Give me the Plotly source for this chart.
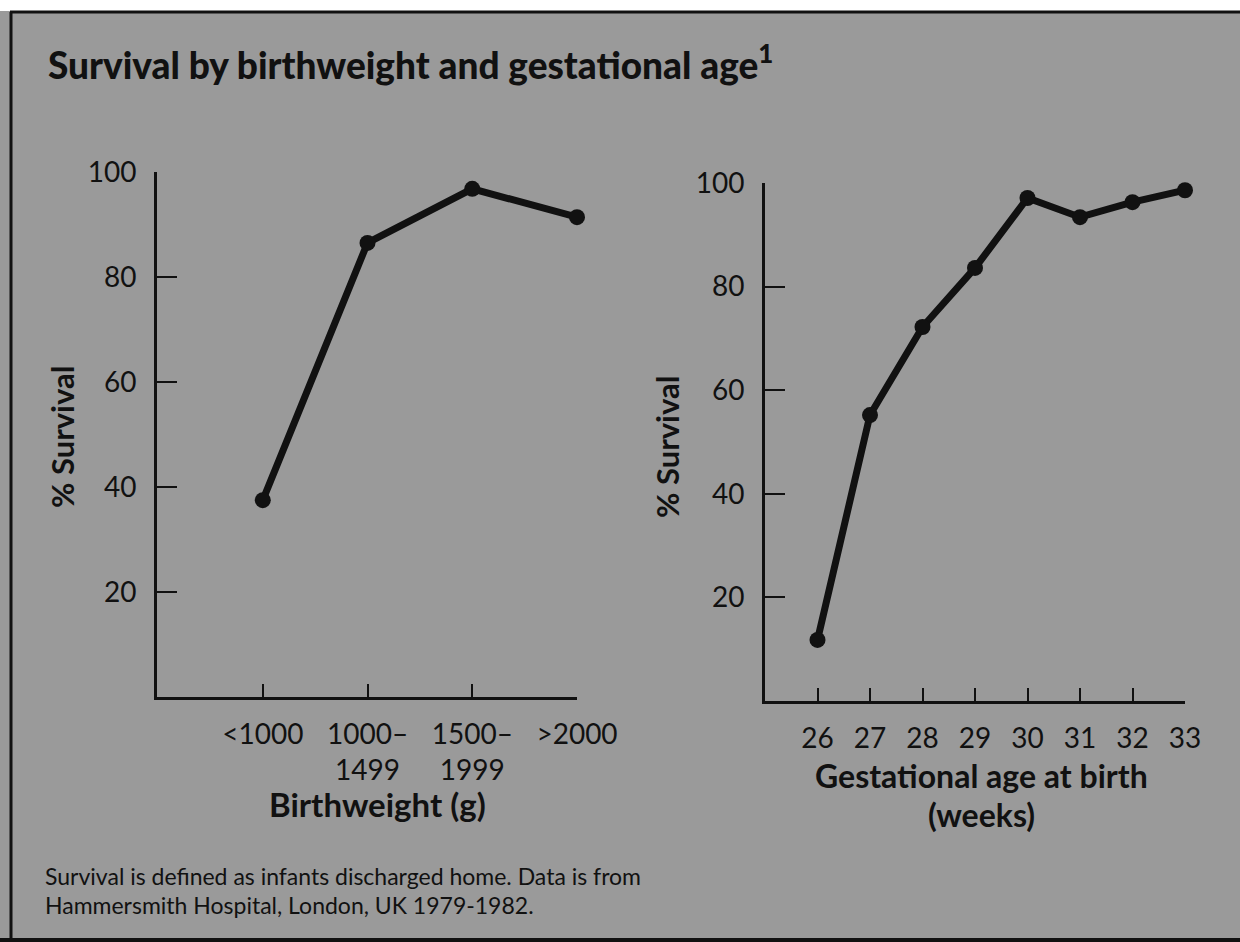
import plotly.graph_objects as go

# ---- data ----
bw_categories = ["<1000", "1000–<br>1499", "1500–<br>1999", ">2000"]
bw_survival = [37.5, 86.5, 96.8, 91.4]

ga_weeks = [26, 27, 28, 29, 30, 31, 32, 33]
ga_survival = [11.8, 55.2, 72.2, 83.6, 97.1, 93.4, 96.3, 98.6]

y_ticks = [20, 40, 60, 80, 100]
y_ticklabels = ["20", "40", "60", "80", "100"]

title_text = "Survival by birthweight and gestational age<sup>1</sup>"
footnote_lines = ["Survival is defined as infants discharged home. Data is from",
                  "Hammersmith Hospital, London, UK 1979-1982."]

W, H = 1240, 942
FONT = "Lato"
BG = "#9a9a9a"
INK = "#111111"


def px(x):
    return x / W


def py(y):
    return 1 - y / H


fig = go.Figure()

fig.add_trace(go.Scatter(
    x=list(range(len(bw_categories))), y=bw_survival,
    mode="lines+markers",
    line=dict(color=INK, width=7),
    marker=dict(color=INK, size=16),
    xaxis="x", yaxis="y", cliponaxis=False, showlegend=False,
))

fig.add_trace(go.Scatter(
    x=ga_weeks, y=ga_survival,
    mode="lines+markers",
    line=dict(color=INK, width=7),
    marker=dict(color=INK, size=16),
    xaxis="x2", yaxis="y2", cliponaxis=False, showlegend=False,
))

tickfont = dict(family=FONT, size=28, color=INK)
common_axis = dict(
    showgrid=False, zeroline=False, showline=True, linecolor=INK, linewidth=3,
    ticks="inside", tickcolor=INK, tickwidth=2, tickfont=tickfont,
    automargin=False,
)

fig.update_layout(
    width=W, height=H, autosize=False,
    margin=dict(l=0, r=0, t=0, b=0, pad=0, autoexpand=False),
    paper_bgcolor=BG, plot_bgcolor=BG,
    showlegend=False,
    xaxis=dict(
        domain=[px(157), px(577)], range=[-1.01, 3.0],
        tickmode="array", tickvals=list(range(len(bw_categories))),
        ticktext=bw_categories, ticklen=13, ticklabelstandoff=10,
        anchor="y", **common_axis,
    ),
    yaxis=dict(
        domain=[py(697), py(172)], range=[0, 100],
        tickmode="array", tickvals=y_ticks, ticktext=y_ticklabels,
        ticklen=20, ticklabelstandoff=12,
        anchor="x", **common_axis,
    ),
    xaxis2=dict(
        domain=[px(765), px(1185)], range=[25, 33],
        tickmode="array", tickvals=ga_weeks,
        ticklen=13, ticklabelstandoff=10,
        anchor="y2", **common_axis,
    ),
    yaxis2=dict(
        domain=[py(701), py(183)], range=[0, 100],
        tickmode="array", tickvals=y_ticks, ticktext=y_ticklabels,
        ticklen=20, ticklabelstandoff=12,
        anchor="x2", **common_axis,
    ),
)

bold = dict(family=FONT, size=33, color=INK, weight="bold")
bold2 = dict(family=FONT, size=32, color=INK, weight="bold")
ylab = dict(family=FONT, size=31, color=INK, weight="bold")
foot = dict(family=FONT, size=23, color=INK)

annotations = [
    dict(text=title_text, x=px(46), y=py(62), xanchor="left", yanchor="middle",
         font=dict(family=FONT, size=37, color=INK, weight=900)),
    dict(text="Birthweight (g)", x=px(378), y=py(804), xanchor="center", yanchor="middle",
         font=bold),
    dict(text="Gestational age at birth", x=px(981), y=py(775),
         xanchor="center", yanchor="middle", font=bold2),
    dict(text="(weeks)", x=px(981), y=py(814),
         xanchor="center", yanchor="middle", font=bold2),
    dict(text="% Survival", x=px(62), y=py(437), textangle=-90,
         xanchor="center", yanchor="middle", font=ylab),
    dict(text="% Survival", x=px(667), y=py(447), textangle=-90,
         xanchor="center", yanchor="middle", font=ylab),
    dict(text=footnote_lines[0], x=px(43), y=py(876), xanchor="left", yanchor="middle",
         align="left", font=foot),
    dict(text=footnote_lines[1], x=px(43), y=py(905), xanchor="left", yanchor="middle",
         align="left", font=foot),
]
for a in annotations:
    a.update(xref="paper", yref="paper", showarrow=False)
fig.update_layout(annotations=annotations)

# scan frame: white strip on top, dark border lines
fig.add_shape(type="rect", xref="paper", yref="paper", x0=0, x1=1, y0=py(11), y1=1,
              fillcolor="white", line_width=0, layer="above")
fig.add_shape(type="line", xref="paper", yref="paper", x0=px(10), x1=1, y0=py(12), y1=py(12),
              line=dict(color=INK, width=3), layer="above")
fig.add_shape(type="line", xref="paper", yref="paper", x0=px(11), x1=px(11), y0=0, y1=py(12),
              line=dict(color=INK, width=3), layer="above")
fig.add_shape(type="line", xref="paper", yref="paper", x0=0, x1=1, y0=py(940), y1=py(940),
              line=dict(color=INK, width=4), layer="above")

fig.write_html(
    "out.html",
    config={"responsive": False, "displayModeBar": False},
    post_script="document.body.style.margin='0';document.body.style.overflow='hidden';",
)
